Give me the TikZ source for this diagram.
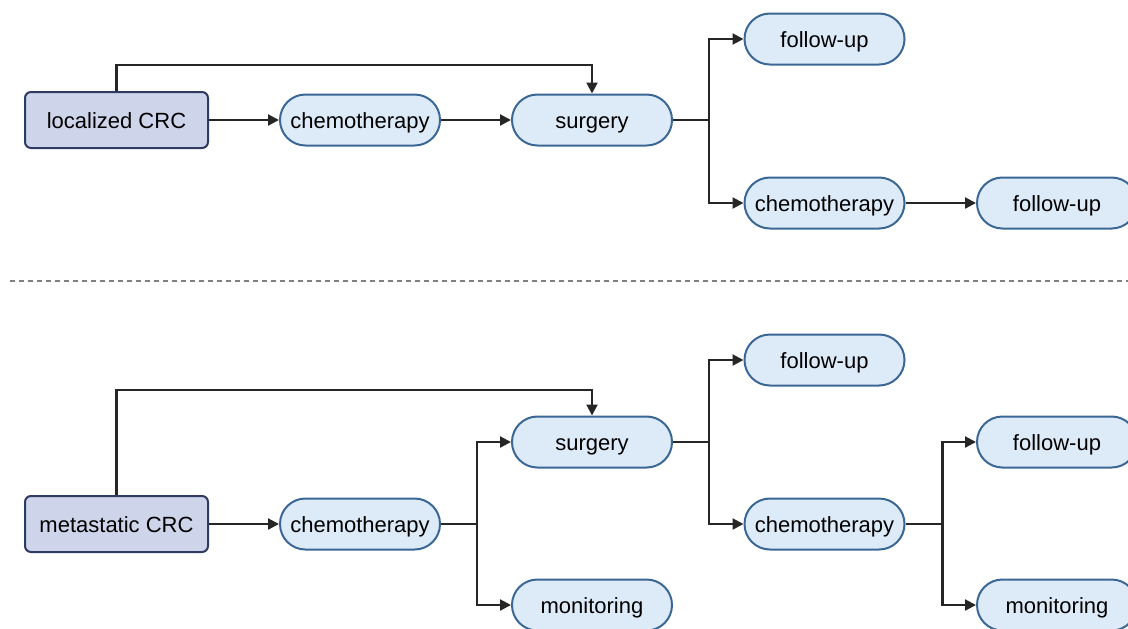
\documentclass[tikz,border=0pt]{standalone}
\usepackage{fontspec}
\setmainfont{Liberation Sans}
\usetikzlibrary{arrows.meta}
\definecolor{pillfill}{HTML}{DDEAF8}
\definecolor{pilldraw}{HTML}{3A6794}
\definecolor{boxfill}{HTML}{CED5EA}
\definecolor{boxdraw}{HTML}{2E3A62}
\definecolor{linecol}{HTML}{262626}

\begin{document}
\begin{tikzpicture}[x=0.5pt, y=-0.5pt,
  every node/.style={font=\fontsize{11}{13}\selectfont, text height=9.5pt, text depth=1.5pt},
  stage/.style={rectangle, rounded corners=3pt, draw=boxdraw, fill=boxfill, line width=1pt, minimum width=91.5pt, minimum height=28pt},
  treat/.style={rectangle, rounded corners=12.7pt, draw=pilldraw, fill=pillfill, line width=1pt, minimum width=80pt, minimum height=25.5pt, inner sep=0pt},
  arr/.style={draw=linecol, line width=1.1pt, -{Triangle[length=5.5pt, width=5.5pt]}},
  lin/.style={draw=linecol, line width=1.1pt}]
  \useasboundingbox (0,0) rectangle (1128,628);

  \node[stage] (loc) at (116.5,120) {localized CRC};
  \node[treat] (chemoA) at (360,120) {chemotherapy};
  \node[treat] (surgA) at (592,120) {surgery};
  \node[treat] (fuA) at (824.5,39) {follow-up};
  \node[treat] (chemoB) at (824.5,203) {chemotherapy};
  \node[treat] (fuB) at (1057,203) {follow-up};

  \draw[arr] (loc) -- (chemoA);
  \draw[arr] (chemoA) -- (surgA);
  \draw[arr] (loc.north) -- ++(0,-26) -| (surgA.north);
  \draw[arr] (surgA.east) -- ++(36,0) |- (fuA);
  \draw[arr] (surgA.east) -- ++(36,0) |- (chemoB);
  \draw[arr] (chemoB) -- (fuB);

  \coordinate (sepL) at (10,281);
  \coordinate (sepR) at (1128,281);
  \draw[draw=gray, line width=0.9pt, dash pattern=on 2.5pt off 2pt] (sepL) -- (sepR);

  \node[stage] (met) at (116.5,524) {metastatic CRC};
  \node[treat] (chemoC) at (360,524) {chemotherapy};
  \node[treat] (surgB) at (592,442) {surgery};
  \node[treat] (monA) at (592,605) {monitoring};
  \node[treat] (fuC) at (824.5,360) {follow-up};
  \node[treat] (chemoD) at (824.5,524) {chemotherapy};
  \node[treat] (fuD) at (1057,442) {follow-up};
  \node[treat] (monB) at (1057,605) {monitoring};

  \draw[arr] (met) -- (chemoC);
  \draw[arr] (met.north) -- ++(0,-105) -| (surgB.north);
  \draw[arr] (chemoC.east) -- ++(36,0) |- (surgB);
  \draw[arr] (chemoC.east) -- ++(36,0) |- (monA);
  \draw[arr] (surgB.east) -- ++(36,0) |- (fuC);
  \draw[arr] (surgB.east) -- ++(36,0) |- (chemoD);
  \draw[arr] (chemoD.east) -- ++(37,0) |- (fuD);
  \draw[arr] (chemoD.east) -- ++(37,0) |- (monB);
\end{tikzpicture}
\end{document}
